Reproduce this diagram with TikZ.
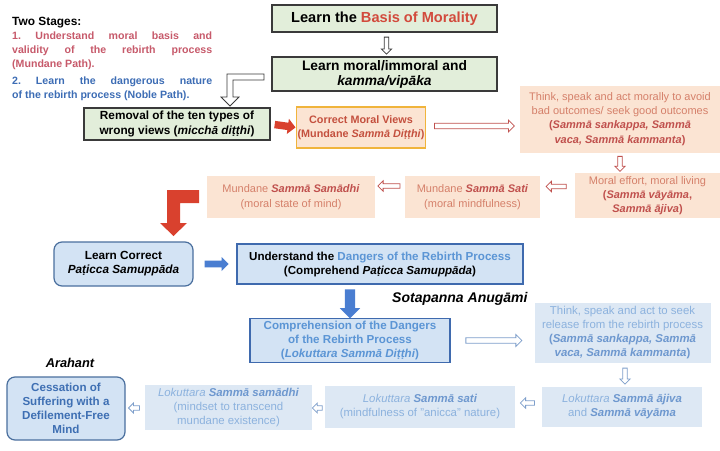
\documentclass[tikz,border=0pt]{standalone}
\usepackage{fontspec}
\setmainfont{Liberation Sans}
\usetikzlibrary{shapes.arrows}
\definecolor{greenfill}{HTML}{E2EEDA}
\definecolor{borderdark}{HTML}{3A3A3A}
\definecolor{titlered}{HTML}{D24A3C}
\definecolor{stageone}{HTML}{C75A6B}
\definecolor{stagetwo}{HTML}{3D6DB5}
\definecolor{peachfill}{HTML}{FBE4D3}
\definecolor{goldborder}{HTML}{F0B43C}
\definecolor{cortext}{HTML}{C4503E}
\definecolor{peachbold}{HTML}{C0504D}
\definecolor{peachlight}{HTML}{D5806A}
\definecolor{arrowred}{HTML}{D9412E}
\definecolor{hollowred}{HTML}{C0504D}
\definecolor{bluefill}{HTML}{D3E3F4}
\definecolor{blueborder}{HTML}{4A6F9E}
\definecolor{darkblueborder}{HTML}{3F6AAE}
\definecolor{lbfill}{HTML}{DDE8F4}
\definecolor{lbtext}{HTML}{8CB2DE}
\definecolor{lbbold}{HTML}{6E98CF}
\definecolor{comptext}{HTML}{5B95D5}
\definecolor{cesstext}{HTML}{3E6FB3}
\definecolor{bluearrow}{HTML}{4A7ED1}
\definecolor{hollowblue}{HTML}{7E9FCB}
\newcommand\bi[1]{\textbf{\textit{#1}}}
\newcommand\tdt{\iffontchar\font"1E6D \symbol{"1E6D}\else t\kern-.25em\raisebox{-.6ex}{.}\kern-.03em\fi}
\tikzset{
  greenbox/.style={draw=borderdark, line width=1.3pt, fill=greenfill, align=center, inner sep=0pt, font=\bfseries},
  corbox/.style={draw=goldborder, line width=1.3pt, fill=peachfill, align=center, inner sep=0pt, font=\fontsize{10.8}{13.5}\selectfont\bfseries, text=cortext},
  peachbox/.style={fill=peachfill, align=center, inner sep=0pt, font=\fontsize{11}{14.3}\selectfont, text=peachlight},
  learnbox/.style={draw=blueborder, line width=1.2pt, fill=bluefill, rounded corners=8pt, align=center, inner sep=0pt},
  undbox/.style={draw=darkblueborder, line width=1.2pt, fill=bluefill, align=center, inner sep=0pt},
  lbbox/.style={fill=lbfill, align=center, inner sep=0pt, font=\fontsize{11.4}{14}\selectfont, text=lbtext},
  hollowarrow/.style={single arrow, draw=#1, fill=white, line width=0.8pt, inner sep=2.3pt, minimum width=12pt, single arrow head extend=3pt, sloped, allow upside down},
  solidarrow/.style={single arrow, draw=none, fill=#1, sloped, allow upside down},
}
\begin{document}
\begin{tikzpicture}[x=1pt,y=1pt]
\useasboundingbox (0,0) rectangle (720,-450);
\fill[white] (0,0) rectangle (720,-450);

% Two stages text
\node[anchor=north west, inner sep=0pt] (stages) at (12,-17) {\parbox{200pt}{\fontsize{10.6}{14}\selectfont\bfseries\frenchspacing\hyphenpenalty=10000\parindent=0pt
{\fontsize{11.9}{14}\selectfont Two Stages:}\par
{\color{stageone}1. Understand moral basis and\linebreak validity of the rebirth process\linebreak (Mundane Path).}\par\vspace{2.5pt}
{\color{stagetwo}2. Learn the dangerous nature\linebreak of the rebirth process (Noble Path).}}};

% Mundane part
\node[greenbox, minimum width=225pt, minimum height=27pt, font=\fontsize{14.6}{16}\selectfont\bfseries] (basis) at (384.5,-18.5) {Learn the {\color{titlered}Basis of Morality}};
\node[greenbox, minimum width=225pt, minimum height=34pt, font=\fontsize{13.8}{15}\selectfont\bfseries] (moral) at (384.5,-74) {Learn moral/immoral and\\\textit{kamma/vipāka}};
\node[greenbox, minimum width=186pt, minimum height=32pt, font=\fontsize{11.8}{15}\selectfont\bfseries] (removal) at (177,-124) {Removal of the ten types of\\wrong views (\textit{micchā di\tdt\tdt hi})};
\node[corbox, minimum width=129pt, minimum height=41pt] (correct) at (361,-127.5) {Correct Moral Views\\(Mundane \textit{Sammā Di\tdt\tdt hi})};
\node[peachbox, minimum width=200pt, minimum height=67pt] (think1) at (620,-119) {Think, speak and act morally to avoid\\bad outcomes/ seek good outcomes\\{\color{peachbold}\bfseries(\textit{Sammā sankappa, Sammā}}\\{\color{peachbold}\bfseries\textit{vaca, Sammā kammanta})}};
\node[peachbox, minimum width=146pt, minimum height=45pt] (effort) at (647.5,-195.5) {Moral effort, moral living\\{\color{peachbold}\bfseries(\textit{Sammā vāyāma},}\\{\color{peachbold}\bfseries\textit{Sammā ājiva})}};
\node[peachbox, minimum width=135pt, minimum height=42pt] (sati) at (472.5,-197) {Mundane {\color{peachbold}\bi{Sammā Sati}}\\(moral mindfulness)};
\node[peachbox, minimum width=168pt, minimum height=42pt] (samadhi) at (291,-197) {Mundane {\color{peachbold}\bi{Sammā Samādhi}}\\(moral state of mind)};

% arrows mundane
\path ([xshift=2pt]basis.south) -- ([xshift=2pt]basis.south |- moral.north) node[midway, hollowarrow=borderdark, minimum height=17pt, inner sep=1.8pt, minimum width=10pt] {};
\draw[borderdark, line width=0.8pt, fill=white] (264,-74) -- (227,-74) -- (227,-97) -- (221,-97) -- (230,-106) -- (239,-97) -- (233,-97) -- (233,-80) -- (264,-80) -- cycle;
\path (removal.east) -- (correct.west) node[midway, solidarrow=arrowred, minimum height=21pt, minimum width=15pt, inner sep=3.5pt, single arrow head extend=4pt] {};
\path ([yshift=1.5pt]correct.east) -- ([yshift=1.5pt]correct.east -| think1.west) node[midway, hollowarrow=hollowred, minimum height=80pt] {};
\path (think1.south) -- (think1.south |- effort.north) node[midway, hollowarrow=hollowred, minimum height=15pt, inner sep=1.8pt, minimum width=10pt] {};
\path ([yshift=9pt]effort.west) -- ([yshift=9pt]effort.west -| sati.east) node[midway, hollowarrow=hollowred, minimum height=20pt, inner sep=1.8pt, minimum width=10pt] {};
\path ([yshift=11pt]sati.west) -- ([yshift=11pt]sati.west -| samadhi.east) node[midway, hollowarrow=hollowred, minimum height=22pt, inner sep=1.8pt, minimum width=10pt] {};
\fill[arrowred] (199,-190) -- (167,-190) -- (167,-223) -- (160,-223) -- (173.5,-236) -- (187,-223) -- (180,-223) -- (180,-203) -- (199,-203) -- cycle;

% Noble part
\node[learnbox, minimum width=139pt, minimum height=44pt, font=\fontsize{11.8}{14}\selectfont\bfseries] (learn) at (123.5,-264) {Learn Correct\\\textit{Pa\tdt icca Samuppāda}};
\node[undbox, minimum width=286pt, minimum height=40pt, font=\fontsize{11.6}{14}\selectfont\bfseries] (understand) at (380,-264) {Understand the {\color{comptext}Dangers of the Rebirth Process}\\(Comprehend \textit{Pa\tdt icca Samuppāda})};
\path (learn.east) -- (understand.west) node[midway, solidarrow=bluearrow, minimum height=24pt, minimum width=14pt, inner sep=3.2pt, single arrow head extend=3.5pt] {};
\node[undbox, minimum width=200pt, minimum height=44pt, font=\fontsize{11.6}{14}\selectfont\bfseries, text=comptext] (comp) at (350,-340.5) {Comprehension of the Dangers\\of the Rebirth Process\\(\textit{Lokuttara Sammā Di\tdt\tdt hi})};
\path (understand.south -| comp.north) -- (comp.north) node[midway, solidarrow=bluearrow, minimum height=29pt, minimum width=20pt, inner sep=5pt, single arrow head extend=5pt] {};
\node[anchor=west, inner sep=0pt, font=\fontsize{14}{16}\selectfont\bfseries\itshape] (sotapanna) at (392,-299) {Sotapanna Anugāmi};
\node[lbbox, minimum width=176pt, minimum height=60pt] (think2) at (622.5,-333) {Think, speak and act to seek\\release from the rebirth process\\{\color{lbbold}\bfseries(\textit{Sammā sankappa, Sammā}}\\{\color{lbbold}\bfseries\textit{vaca, Sammā kammanta})}};
\node[lbbox, minimum width=160pt, minimum height=40pt] (ajiva) at (622,-407) {\textit{Lokuttara} {\color{lbbold}\bi{Sammā ājiva}}\\and {\color{lbbold}\bi{Sammā vāyāma}}};
\node[lbbox, minimum width=190pt, minimum height=42pt] (sati2) at (420,-407) {\textit{Lokuttara} {\color{lbbold}\bi{Sammā sati}}\\(mindfulness of "anicca" nature)};
\node[lbbox, minimum width=167pt, minimum height=45pt] (samadhi2) at (228.5,-407.5) {\textit{Lokuttara} {\color{lbbold}\bi{Sammā samādhi}}\\(mindset to transcend\\mundane existence)};
\node[learnbox, minimum width=118pt, minimum height=63pt, font=\fontsize{11.6}{14}\selectfont\bfseries, text=cesstext] (cess) at (66,-408.5) {Cessation of\\Suffering with a\\Defilement-Free\\Mind};
\node[inner sep=0pt, font=\fontsize{12.8}{14}\selectfont\bfseries\itshape] (arahant) at (70,-363) {Arahant};

\path (comp.east) -- (comp.east -| think2.west) node[midway, hollowarrow=hollowblue, minimum height=56pt] {};
\path ([xshift=2.5pt]think2.south) -- ([xshift=2.5pt]think2.south |- ajiva.north) node[midway, hollowarrow=hollowblue, minimum height=16pt, inner sep=1.8pt, minimum width=10pt] {};
\path ([yshift=4pt]ajiva.west) -- ([yshift=4pt]ajiva.west -| sati2.east) node[midway, hollowarrow=hollowblue, minimum height=14pt, inner sep=1.8pt, minimum width=10pt] {};
\path ([yshift=-1pt]sati2.west) -- ([yshift=-1pt]sati2.west -| samadhi2.east) node[midway, hollowarrow=hollowblue, minimum height=10pt, inner sep=1.8pt, minimum width=10pt, single arrow head extend=2.5pt] {};
\path ([yshift=-0.5pt]samadhi2.west) -- ([yshift=-0.5pt]samadhi2.west -| cess.east) node[midway, hollowarrow=hollowblue, minimum height=11pt, inner sep=1.8pt, minimum width=10pt, single arrow head extend=2.5pt] {};
\end{tikzpicture}
\end{document}
